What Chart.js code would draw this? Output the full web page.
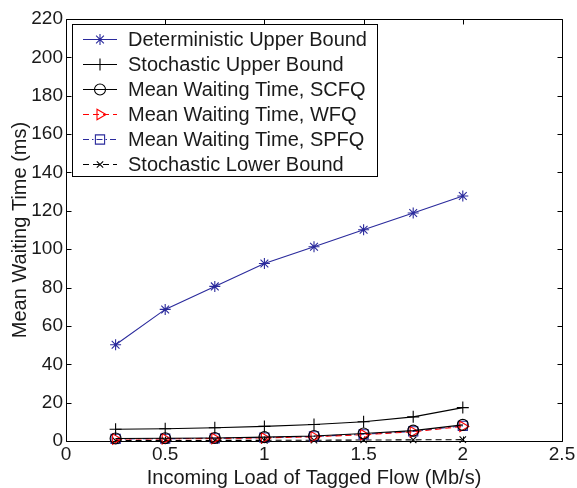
<!DOCTYPE html>
<html><head><meta charset="utf-8">
<script src="https://cdn.jsdelivr.net/npm/chart.js@4.4.0/dist/chart.umd.min.js"></script>
<style>html,body{margin:0;padding:0;background:#fff;} #wrap{width:577px;height:488px;}</style>
</head><body><div id="wrap"><canvas id="c" width="577" height="488"></canvas></div>
<script>
const loads = [0.25, 0.5, 0.75, 1.0, 1.25, 1.5, 1.75, 2.0];
const detUpper = [50.2, 68.6, 80.6, 92.5, 101.3, 110.1, 118.9, 127.7];
const stoUpper = [6.1, 6.4, 6.9, 7.6, 8.6, 10.0, 12.6, 17.4];
const scfq = [1.3, 1.4, 1.6, 2.0, 2.6, 3.9, 5.4, 8.4];
const wfq = [1.0, 1.1, 1.3, 1.6, 2.2, 3.3, 4.8, 7.6];
const spfq = [1.1, 1.2, 1.4, 1.8, 2.4, 3.5, 5.0, 7.9];
const stoLower = [0.2, 0.25, 0.3, 0.35, 0.4, 0.5, 0.6, 0.7];
const xTicks = [0, 0.5, 1, 1.5, 2, 2.5];
const yTicks = [0, 20, 40, 60, 80, 100, 120, 140, 160, 180, 200, 220];
const seriesNames = ['Deterministic Upper Bound', 'Stochastic Upper Bound', 'Mean Waiting Time, SCFQ',
  'Mean Waiting Time, WFQ', 'Mean Waiting Time, SPFQ', 'Stochastic Lower Bound'];
const xTitle = 'Incoming Load of Tagged Flow (Mb/s)';
const yTitle = 'Mean Waiting Time (ms)';

const FONT = 'Liberation Sans, Arial, Helvetica, sans-serif';
const TXT = '#1a1a1a';
const BLUE = '#2a2a9c';

function pts(arr) { return loads.map((x, i) => ({x: x, y: arr[i]})); }

const styles = [
  {color: BLUE, dash: [], point: 'star', radius: 5.5, rot: 0},
  {color: '#000', dash: [], point: 'cross', radius: 6, rot: 0},
  {color: '#000', dash: [], point: 'circle', radius: 5.5, rot: 0},
  {color: '#ff0000', dash: [6, 4], point: 'triangle', radius: 6, rot: 90},
  {color: BLUE, dash: [6, 3, 1.5, 3], point: 'rect', radius: 6.5, rot: 0},
  {color: '#000', dash: [6, 4], point: 'crossRot', radius: 4.5, rot: 0}
];
const values = [detUpper, stoUpper, scfq, wfq, spfq, stoLower];

const datasets = values.map((v, i) => ({
  label: seriesNames[i],
  data: pts(v),
  borderColor: styles[i].color,
  backgroundColor: 'rgba(0,0,0,0)',
  borderWidth: 1.1,
  borderDash: styles[i].dash,
  pointStyle: styles[i].point,
  pointRadius: styles[i].radius,
  pointRotation: styles[i].rot,
  pointBorderColor: styles[i].color,
  pointBackgroundColor: 'rgba(0,0,0,0)',
  pointBorderWidth: 1.1,
  tension: 0,
  clip: false
}));

const framePlugin = {
  id: 'frame',
  beforeDatasetsDraw(chart) {
    const {ctx, chartArea: a, scales} = chart;
    ctx.save();
    ctx.strokeStyle = '#000';
    ctx.lineWidth = 1;
    ctx.beginPath();
    const L = Math.round(a.left) + 0.5, R = Math.round(a.right) + 0.5;
    const T = Math.round(a.top) + 0.5, B = Math.round(a.bottom) + 0.5;
    ctx.rect(L, T, R - L, B - T);
    const tl = 5;
    xTicks.forEach(v => {
      const px = Math.round(scales.x.getPixelForValue(v)) + 0.5;
      ctx.moveTo(px, B); ctx.lineTo(px, B - tl);
      ctx.moveTo(px, T); ctx.lineTo(px, T + tl);
    });
    yTicks.forEach(v => {
      const py = Math.round(scales.y.getPixelForValue(v)) + 0.5;
      ctx.moveTo(L, py); ctx.lineTo(L + tl, py);
      ctx.moveTo(R, py); ctx.lineTo(R - tl, py);
    });
    ctx.stroke();
    ctx.restore();
  }
};

function drawMarker(ctx, st, x, y) {
  const opts = {pointStyle: st.point, rotation: st.rot, radius: st.radius, borderWidth: 1.1};
  if (Chart.helpers && Chart.helpers.drawPoint) {
    Chart.helpers.drawPoint(ctx, opts, x, y);
  }
}

const legendPlugin = {
  id: 'mlegend',
  afterDraw(chart) {
    const ctx = chart.ctx;
    const bx = 72.5, by = 24.5, bw = 305, bh = 152;
    ctx.save();
    ctx.fillStyle = '#fff';
    ctx.fillRect(bx, by, bw, bh);
    ctx.strokeStyle = '#000';
    ctx.lineWidth = 1;
    ctx.strokeRect(bx, by, bw, bh);
    const rowY0 = 39.5, pitch = 25;
    seriesNames.forEach((name, i) => {
      const st = styles[i];
      const y = rowY0 + i * pitch;
      ctx.save();
      ctx.strokeStyle = st.color;
      ctx.lineWidth = 1.1;
      ctx.setLineDash(st.dash);
      ctx.beginPath();
      ctx.moveTo(83, y); ctx.lineTo(117, y);
      ctx.stroke();
      ctx.setLineDash([]);
      ctx.fillStyle = 'rgba(0,0,0,0)';
      drawMarker(ctx, st, 100, y);
      ctx.restore();
      ctx.fillStyle = TXT;
      ctx.font = '20px ' + FONT;
      ctx.textBaseline = 'middle';
      ctx.textAlign = 'left';
      ctx.fillText(name, 128, y + 1);
    });
    ctx.restore();
  }
};

new Chart(document.getElementById('c'), {
  type: 'line',
  data: {datasets: datasets},
  options: {
    responsive: false,
    animation: false,
    devicePixelRatio: 1,
    layout: {padding: {top: 19, right: 15, left: 0, bottom: 0}},
    plugins: {legend: {display: false}, tooltip: {enabled: false}},
    scales: {
      x: {
        type: 'linear', min: 0, max: 2.5,
        afterBuildTicks(s) { s.ticks = xTicks.map(v => ({value: v})); },
        afterFit(s) { s.height = 47; s.paddingLeft = 0; s.paddingRight = 0; },
        ticks: {font: {size: 19, family: FONT}, color: TXT, padding: 2, maxRotation: 0, autoSkip: false,
          callback: (v) => String(v)},
        grid: {display: false, drawTicks: false},
        border: {display: false},
        title: {display: true, text: xTitle, color: TXT, font: {size: 20, family: FONT, lineHeight: 1}, padding: {top: 0, bottom: 0}}
      },
      y: {
        type: 'linear', min: 0, max: 220,
        afterBuildTicks(s) { s.ticks = yTicks.map(v => ({value: v})); },
        afterFit(s) { s.width = 66; s.paddingTop = 0; s.paddingBottom = 0; },
        ticks: {font: {size: 19, family: FONT}, color: TXT, padding: 3, autoSkip: false,
          callback: (v) => String(v)},
        grid: {display: false, drawTicks: false},
        border: {display: false},
        title: {display: true, text: yTitle, color: TXT, font: {size: 20, family: FONT, lineHeight: 1}, padding: {top: 10, bottom: 0}}
      }
    }
  },
  plugins: [framePlugin, legendPlugin]
});
</script>
</body></html>
